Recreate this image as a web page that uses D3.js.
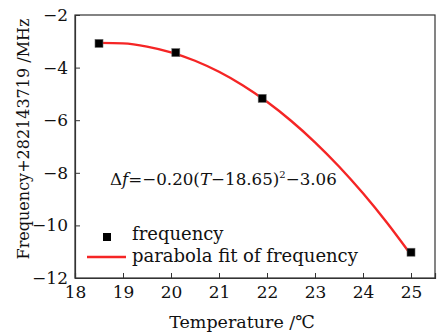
<!DOCTYPE html>
<html lang="en">
<head>
<meta charset="UTF-8">
<title>Frequency vs Temperature</title>
<script src="https://cdn.jsdelivr.net/npm/d3@7"></script>
<style>
  body { margin: 0; background: #fff; }
  text { font-family: "DejaVu Serif", "Liberation Serif", serif; fill: #111; }
</style>
</head>
<body>
<script>
// measured points
var temps = [18.5, 20.1, 21.9, 25.0];
var freqs = [-3.08, -3.43, -5.17, -11.02];

// fit curve
var fitT = [18.5, 19, 19.5, 20, 20.5, 21, 21.5, 22, 22.5, 23, 23.5, 24, 24.5, 25];
var fitF = [-3.06, -3.08, -3.20, -3.42, -3.74, -4.16, -4.68, -5.30, -6.02, -6.84, -7.76, -8.78, -9.90, -11.12];

var xTicks = [18, 19, 20, 21, 22, 23, 24, 25];
var yTicks = [-2, -4, -6, -8, -10, -12];

var width = 443, height = 333;
var mLeft = 75, mTop = 15, mRight = 435, mBottom = 278;
var font = "'DejaVu Serif', 'Liberation Serif', serif";

var svg = d3.select("body").append("svg")
    .attr("width", width)
    .attr("height", height);

var x = d3.scaleLinear().domain([18, 25.5]).range([mLeft, mRight]);
var y = d3.scaleLinear().domain([-12, -2]).range([mBottom, mTop]);

// frame
svg.append("rect")
    .attr("x", mLeft).attr("y", mTop)
    .attr("width", mRight - mLeft).attr("height", mBottom - mTop)
    .attr("fill", "none").attr("stroke", "#333").attr("stroke-width", 1.2);

var xAxis = svg.append("g")
    .attr("transform", "translate(0," + mBottom + ")")
    .call(d3.axisBottom(x).tickValues(xTicks).tickSize(-5).tickPadding(8).tickFormat(d3.format("d")));
var yAxis = svg.append("g")
    .attr("transform", "translate(" + mLeft + ",0)")
    .call(d3.axisLeft(y).tickValues(yTicks).tickSize(-5).tickPadding(7)
        .tickFormat(function(d) { return String(d).replace("-", "\u2212"); }));

[xAxis, yAxis].forEach(function(a) {
    a.select(".domain").attr("stroke", "#333").attr("stroke-width", 1.2);
    a.selectAll(".tick line").attr("stroke", "#333");
    a.selectAll(".tick text")
        .style("font-family", font)
        .style("font-size", "17px").attr("fill", "#111");
});

// axis titles
svg.append("text")
    .attr("x", 242).attr("y", 328)
    .attr("text-anchor", "middle")
    .style("font-size", "17.5px")
    .text("Temperature /\u2103");

svg.append("text")
    .attr("transform", "translate(29,139) rotate(-90)")
    .attr("text-anchor", "middle")
    .style("font-size", "16px")
    .text("Frequency+282143719 /MHz");

// fit line
var fit = fitT.map(function(t, i) { return [t, fitF[i]]; });
svg.append("path")
    .datum(fit)
    .attr("fill", "none")
    .attr("stroke", "#f52525")
    .attr("stroke-width", 2.4)
    .attr("d", d3.line()
        .x(function(d) { return x(d[0]); })
        .y(function(d) { return y(d[1]); })
        .curve(d3.curveMonotoneX));

// data squares
svg.selectAll("rect.pt")
    .data(temps)
    .enter().append("rect")
    .attr("class", "pt")
    .attr("x", function(d) { return x(d) - 4; })
    .attr("y", function(d, i) { return y(freqs[i]) - 4; })
    .attr("width", 8).attr("height", 8)
    .attr("fill", "#000").attr("stroke", "#666").attr("stroke-width", 0.6);

// equation
var eq = svg.append("text")
    .attr("x", 110).attr("y", 185)
    .style("font-size", "16.7px");
eq.append("tspan").text("\u0394");
eq.append("tspan").style("font-style", "italic").text("f");
eq.append("tspan").text("=\u22120.20(");
eq.append("tspan").style("font-style", "italic").text("T");
eq.append("tspan").text("\u221218.65)");
eq.append("tspan").attr("dy", -7).style("font-size", "10px").text("2");
eq.append("tspan").attr("dy", 7).text("\u22123.06");

// legend
svg.append("rect")
    .attr("x", 103).attr("y", 233).attr("width", 8).attr("height", 8)
    .attr("fill", "#000");
svg.append("text")
    .attr("x", 132).attr("y", 240)
    .style("font-size", "18px")
    .text("frequency");
svg.append("line")
    .attr("x1", 87).attr("x2", 126).attr("y1", 257).attr("y2", 257)
    .attr("stroke", "#f52525").attr("stroke-width", 2.4);
svg.append("text")
    .attr("x", 132).attr("y", 262)
    .style("font-size", "18px")
    .text("parabola fit of frequency");
</script>
</body>
</html>
